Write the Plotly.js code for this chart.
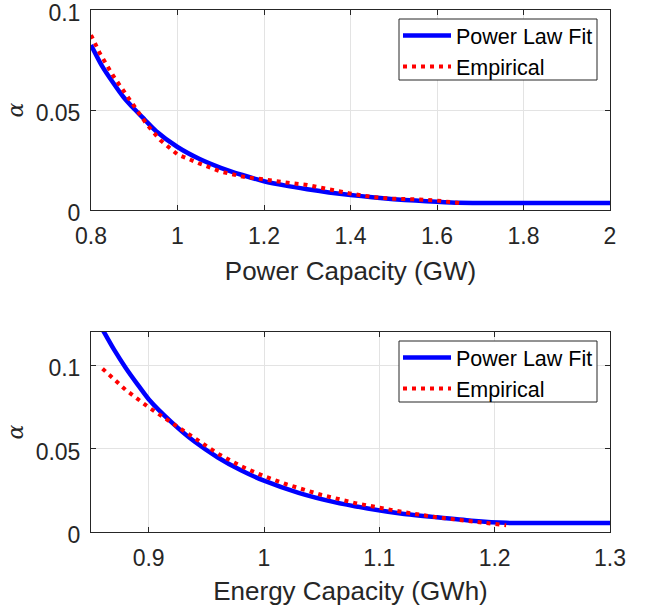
<!DOCTYPE html>
<html>
<head>
<meta charset="utf-8">
<script src="https://cdn.plot.ly/plotly-3.0.1.min.js"></script>
<style>html,body{margin:0;padding:0;background:#fff;}#chart{width:647px;height:608px;}</style>
</head>
<body>
<div id="chart"></div>
<script>
// ---- Data ----
// Top panel: Power capacity
var powerFitX = [0.80, 0.825, 0.85, 0.875, 0.90, 0.925, 0.95, 1.00, 1.05, 1.10, 1.15, 1.20, 1.25, 1.30, 1.35, 1.40, 1.45, 1.50, 1.55, 1.60, 1.65, 1.70, 1.80, 1.90, 2.00];
var powerFitY = [0.0825, 0.0722, 0.0640, 0.0565, 0.0505, 0.0450, 0.0395, 0.0315, 0.0256, 0.0211, 0.0175, 0.0144, 0.0122, 0.0104, 0.0088, 0.0075, 0.0064, 0.0054, 0.0047, 0.0041, 0.0036, 0.0035, 0.0035, 0.0035, 0.0035];
var powerEmpX = [0.80, 0.82, 0.85, 0.88, 0.90, 0.93, 0.96, 1.00, 1.05, 1.10, 1.15, 1.20, 1.25, 1.30, 1.35, 1.40, 1.45, 1.50, 1.55, 1.60, 1.65, 1.66];
var powerEmpY = [0.0875, 0.0785, 0.0675, 0.0580, 0.0515, 0.0425, 0.0350, 0.0278, 0.0233, 0.0192, 0.0167, 0.0150, 0.0138, 0.0125, 0.0102, 0.0082, 0.0065, 0.0056, 0.0053, 0.0047, 0.0035, 0.0030];

// Bottom panel: Energy capacity
var energyFitX = [0.86, 0.87, 0.88, 0.89, 0.90, 0.92, 0.94, 0.96, 0.98, 1.00, 1.03, 1.06, 1.09, 1.12, 1.15, 1.18, 1.21, 1.25, 1.30];
var energyFitY = [0.1215, 0.1094, 0.0986, 0.0889, 0.0797, 0.0658, 0.0541, 0.0447, 0.0370, 0.0308, 0.0235, 0.0181, 0.0141, 0.0110, 0.0088, 0.0068, 0.0055, 0.0054, 0.0054];
var energyEmpX = [0.86, 0.88, 0.90, 0.92, 0.94, 0.96, 0.98, 1.00, 1.02, 1.05, 1.08, 1.10, 1.12, 1.15, 1.18, 1.20, 1.21];
var energyEmpY = [0.0980, 0.0853, 0.0748, 0.0655, 0.0565, 0.0470, 0.0395, 0.0335, 0.0285, 0.0222, 0.0172, 0.0145, 0.0120, 0.0088, 0.0063, 0.0048, 0.0040];

// Tick labels
var powerTicks = [0.8, 1, 1.2, 1.4, 1.6, 1.8, 2];
var powerTickText = ["0.8", "1", "1.2", "1.4", "1.6", "1.8", "2"];
var energyTicks = [0.9, 1, 1.1, 1.2, 1.3];
var energyTickText = ["0.9", "1", "1.1", "1.2", "1.3"];
var alphaTicks = [0, 0.05, 0.1];
var alphaTickText = ["0", "0.05", "0.1"];

var seriesNames = ["Power Law Fit", "Empirical"];
var xTitles = ["Power Capacity (GW)", "Energy Capacity (GWh)"];

// ---- Styles ----
var W = 647, H = 608;
var axColor = '#262626';
var gridColor = '#e3e3e3';
var tickFont = {family: 'Liberation Sans, Arial, sans-serif', size: 23, color: axColor};
var titleFont = {family: 'Liberation Sans, Arial, sans-serif', size: 26, color: axColor};
var fitLine = {color: '#0000ff', width: 4.5, shape: 'spline', smoothing: 0.6};
var empLine = {color: '#ff0000', width: 4, dash: '4px,5px'};

var traces = [
  {x: powerFitX, y: powerFitY, type: 'scatter', mode: 'lines', name: seriesNames[0], line: fitLine, xaxis: 'x', yaxis: 'y', legend: 'legend'},
  {x: powerEmpX, y: powerEmpY, type: 'scatter', mode: 'lines', name: seriesNames[1], line: empLine, xaxis: 'x', yaxis: 'y', legend: 'legend'},
  {x: energyFitX, y: energyFitY, type: 'scatter', mode: 'lines', name: seriesNames[0], line: fitLine, xaxis: 'x2', yaxis: 'y2', legend: 'legend2'},
  {x: energyEmpX, y: energyEmpY, type: 'scatter', mode: 'lines', name: seriesNames[1], line: empLine, xaxis: 'x2', yaxis: 'y2', legend: 'legend2'}
];

function xAxis(range, vals, text, title, anchor, standoff) {
  return {
    range: range, tickvals: vals, ticktext: text, anchor: anchor,
    showline: true, linecolor: axColor, linewidth: 1, mirror: 'ticks',
    ticks: 'inside', ticklen: 5, tickcolor: axColor, tickwidth: 1,
    showgrid: true, gridcolor: gridColor, gridwidth: 1, zeroline: false,
    tickfont: tickFont, ticklabelstandoff: 5, ticklabeloverflow: 'allow',
    title: {text: title, font: titleFont, standoff: standoff},
    automargin: false
  };
}
function yAxis(range, domain, anchor) {
  return {
    range: range, domain: domain, tickvals: alphaTicks, ticktext: alphaTickText, anchor: anchor,
    showline: true, linecolor: axColor, linewidth: 1, mirror: 'ticks',
    ticks: 'inside', ticklen: 5, tickcolor: axColor, tickwidth: 1,
    showgrid: true, gridcolor: gridColor, gridwidth: 1, zeroline: false,
    tickfont: tickFont, ticklabelstandoff: 5, ticklabeloverflow: 'allow', ticklabelshift: 3,
    title: {text: 'α', font: {family: 'DejaVu Serif, serif', size: 22, color: axColor, style: 'italic'}, standoff: 5},
    automargin: false
  };
}

var xDom = [91/W, 610/W];
var legendStyle = {
  bgcolor: 'rgba(0,0,0,0)', borderwidth: 0,
  font: {family: 'Liberation Sans, Arial, sans-serif', size: 21.5, color: '#000000'},
  xanchor: 'left', yanchor: 'top', x: 398/W, itemwidth: 48, tracegroupgap: 0
};
function box(x0, y0, x1, y1) {
  return {type: 'rect', xref: 'paper', yref: 'paper', layer: 'above',
    x0: x0/W, x1: x1/W, y0: 1 - y1/H, y1: 1 - y0/H,
    fillcolor: '#ffffff', line: {color: axColor, width: 1}};
}

var layout = {
  width: W, height: H,
  margin: {l: 0, r: 0, t: 0, b: 0},
  paper_bgcolor: '#ffffff', plot_bgcolor: '#ffffff',
  showlegend: true,
  xaxis: Object.assign(xAxis([0.8, 2], powerTicks, powerTickText, xTitles[0], 'y', 14), {domain: xDom}),
  yaxis: yAxis([0, 0.100001], [1 - 210/H, 1 - 10/H], 'x'),
  xaxis2: Object.assign(xAxis([0.85, 1.300001], energyTicks, energyTickText, xTitles[1], 'y2', 12), {domain: xDom}),
  yaxis2: yAxis([0, 0.12], [1 - 532/H, 1 - 332/H], 'x2'),
  legend: Object.assign({}, legendStyle, {y: 1 - 15/H}),
  legend2: Object.assign({}, legendStyle, {y: 1 - 337/H}),
  shapes: [box(399, 19, 597, 80), box(399, 341, 597, 402)]
};

Plotly.newPlot('chart', traces, layout, {displayModeBar: false, staticPlot: true});
</script>
</body>
</html>
